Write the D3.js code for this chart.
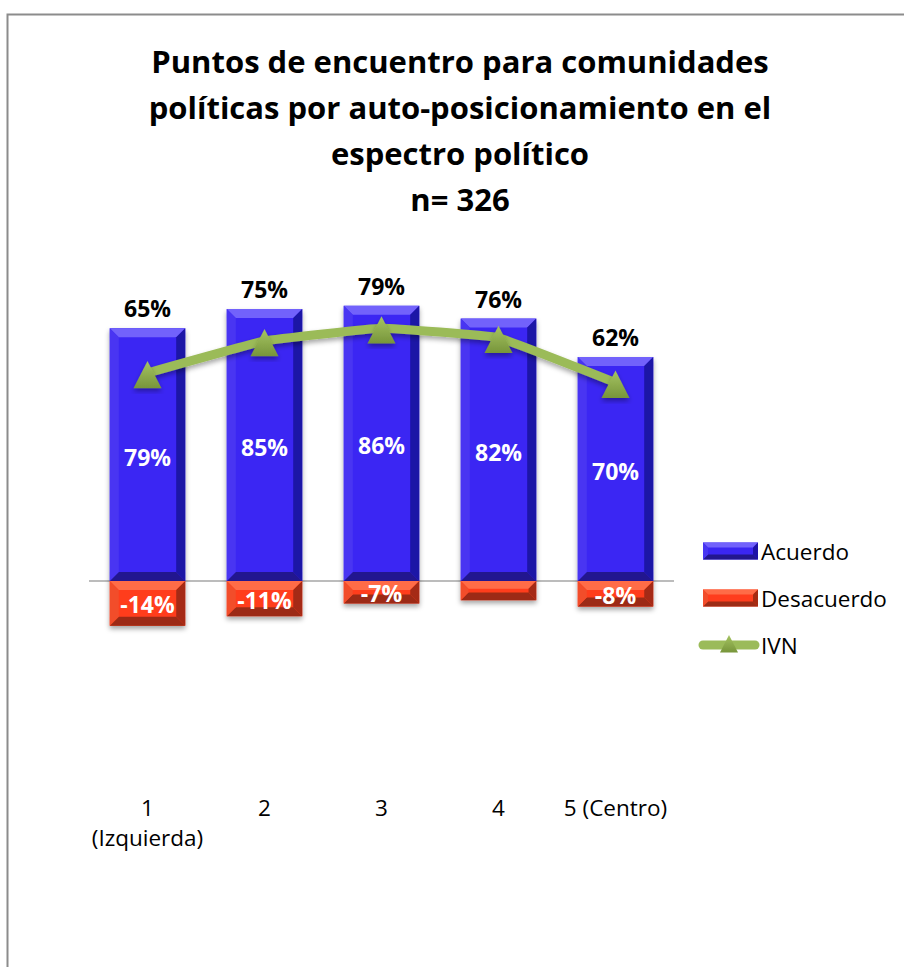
<!DOCTYPE html>
<html>
<head>
<meta charset="utf-8">
<script src="https://cdn.jsdelivr.net/npm/d3@7"></script>
<style>
  body { margin: 0; background: #fff; }
  text { font-family: "Open Sans", "Noto Sans", sans-serif; }
</style>
</head>
<body>
<div class="chart"></div>
<script>
//! DATA
const CATEGORIES = ['1 (Izquierda)', '2', '3', '4', '5 (Centro)'];
const ACUERDO = [79, 85, 86, 82, 70];
const DESACUERDO = [-14, -11, -7, -6, -8];
const DESACUERDO_LABELS = ['-14%', '-11%', '-7%', '', '-8%'];
const IVN = [65, 75, 79, 76, 62];
const TITLE = ['Puntos de encuentro para comunidades', 'políticas por auto-posicionamiento en el', 'espectro político', 'n= 326'];
const SERIES = ['Acuerdo', 'Desacuerdo', 'IVN'];

//! CONSTS
const WIDTH = 904, HEIGHT = 967;

const svg = d3.select('.chart').append('svg')
  .attr('width', WIDTH)
  .attr('height', HEIGHT);

const defs = svg.append('defs');
defs.append('filter').attr('id', 'shadow')
  .attr('x', '-20%').attr('y', '-20%').attr('width', '140%').attr('height', '140%')
  .append('feDropShadow')
  .attr('dx', 0).attr('dy', 3).attr('stdDeviation', 2.5)
  .attr('flood-color', '#000').attr('flood-opacity', 0.35);

const tri = defs.append('linearGradient').attr('id', 'tri')
  .attr('x1', 0).attr('y1', 0).attr('x2', 0).attr('y2', 1);
tri.append('stop').attr('offset', '0%').attr('stop-color', '#a6c463');
tri.append('stop').attr('offset', '100%').attr('stop-color', '#77953a');

// frame
svg.append('rect')
  .attr('x', 7.5).attr('y', 14.5)
  .attr('width', WIDTH + 20).attr('height', HEIGHT + 20)
  .attr('fill', 'none').attr('stroke', '#8c8c8c').attr('stroke-width', 2);

// title
svg.append('g').selectAll('text')
  .data(TITLE)
  .enter().append('text')
  .attr('x', 460)
  .attr('y', (d, i) => 73 + i * 46)
  .attr('text-anchor', 'middle')
  .attr('font-size', 31)
  .attr('font-weight', 700)
  .text(d => d);

//! SCALES
const x = d3.scaleBand()
  .domain(CATEGORIES)
  .range([89, 674])
  .paddingInner(0.355)
  .paddingOuter(0.1775);

const y = d3.scaleLinear()
  .domain([0, 100])
  .range([581, 261]);

const COLORS = {
  blue: { face: '#3b26f3', top: '#7262fb', left: '#4836f2', right: '#1e12a6', bottom: '#23168f' },
  red: { face: '#ff3d1d', top: '#ff6c47', left: '#f24d2b', right: '#a52b12', bottom: '#9c2c16' }
};

// beveled bar, Excel style
function bevelBar(g, x0, y0, w, h, c, b) {
  b = Math.min(b, h / 2.5);
  g.append('rect').attr('x', x0).attr('y', y0).attr('width', w).attr('height', h).attr('fill', c.face);
  const poly = (pts, fill) => g.append('polygon').attr('points', pts.map(p => p.join(',')).join(' ')).attr('fill', fill);
  poly([[x0, y0], [x0 + w, y0], [x0 + w - b, y0 + b], [x0 + b, y0 + b]], c.top);
  poly([[x0, y0 + h], [x0 + w, y0 + h], [x0 + w - b, y0 + h - b], [x0 + b, y0 + h - b]], c.bottom);
  poly([[x0, y0], [x0 + b, y0 + b], [x0 + b, y0 + h - b], [x0, y0 + h]], c.left);
  poly([[x0 + w, y0], [x0 + w - b, y0 + b], [x0 + w - b, y0 + h - b], [x0 + w, y0 + h]], c.right);
}

// zero line
svg.append('line')
  .attr('x1', 89).attr('x2', 674)
  .attr('y1', y(0)).attr('y2', y(0))
  .attr('stroke', '#a6a6a6').attr('stroke-width', 1.5);

// bars
const bars = svg.append('g').attr('class', 'bars');
CATEGORIES.forEach((c, i) => {
  const g = bars.append('g').attr('filter', 'url(#shadow)');
  bevelBar(g, x(c), y(ACUERDO[i]), x.bandwidth(), y(0) - y(ACUERDO[i]), COLORS.blue, 9);
  bevelBar(g, x(c), y(0), x.bandwidth(), y(DESACUERDO[i]) - y(0), COLORS.red, 9);
});

// bar labels
const labels = svg.append('g').attr('font-size', 23).attr('font-weight', 700).attr('text-anchor', 'middle');
CATEGORIES.forEach((c, i) => {
  const cx = x(c) + x.bandwidth() / 2;
  labels.append('text')
    .attr('x', cx).attr('y', (y(0) + y(ACUERDO[i])) / 2 + 2)
    .attr('dominant-baseline', 'central')
    .attr('fill', '#fff')
    .text(ACUERDO[i] + '%');
  labels.append('text')
    .attr('x', cx).attr('y', (y(0) + y(DESACUERDO[i])) / 2 + 1)
    .attr('dominant-baseline', 'central')
    .attr('fill', '#fff')
    .text(DESACUERDO_LABELS[i]);
  labels.append('text')
    .attr('x', cx).attr('y', y(ACUERDO[i]) - 20)
    .attr('dominant-baseline', 'central')
    .attr('fill', '#000')
    .text(IVN[i] + '%');
});

// IVN line
const line = d3.line()
  .x((d, i) => x(CATEGORIES[i]) + x.bandwidth() / 2)
  .y(d => y(d))
  .curve(d3.curveCardinal.tension(0.75));

svg.append('path')
  .datum(IVN)
  .attr('d', line)
  .attr('fill', 'none')
  .attr('stroke', '#9bbb59')
  .attr('stroke-width', 9)
  .attr('filter', 'url(#shadow)');

const triPath = (cx, cy, s) => `M${cx},${cy - s}L${cx + s},${cy + s * 0.95}L${cx - s},${cy + s * 0.95}Z`;

svg.append('g').selectAll('path')
  .data(IVN)
  .enter().append('path')
  .attr('d', (d, i) => triPath(x(CATEGORIES[i]) + x.bandwidth() / 2, y(d) + 2, 14))
  .attr('fill', 'url(#tri)')
  .attr('filter', 'url(#shadow)');

// x labels, wrapped to band width
const xl = svg.append('g').attr('font-size', 22.5).attr('text-anchor', 'middle');
CATEGORIES.forEach(c => {
  const t = xl.append('text').attr('x', x(c) + x.bandwidth() / 2).attr('y', 816);
  t.text(c);
  if (t.node().getComputedTextLength() > x.step()) {
    const words = c.split(' ');
    t.text(null);
    words.forEach((w, j) => t.append('tspan').attr('x', x(c) + x.bandwidth() / 2).attr('dy', j ? 30 : 0).text(w));
  }
});

// legend
const legend = svg.append('g').attr('font-size', 22.5);
SERIES.forEach((s, i) => {
  const ly = 551 + i * 47;
  if (i < 2) {
    bevelBar(legend, 703, ly - 8.5, 55, 17, i ? COLORS.red : COLORS.blue, 5);
  } else {
    legend.append('line')
      .attr('x1', 703).attr('x2', 755).attr('y1', ly).attr('y2', ly)
      .attr('stroke', '#9bbb59').attr('stroke-width', 9).attr('stroke-linecap', 'round');
    legend.append('path').attr('d', triPath(729, ly - 1, 9)).attr('fill', 'url(#tri)');
  }
  legend.append('text')
    .attr('x', 761).attr('y', ly)
    .attr('dominant-baseline', 'central')
    .text(s);
});
</script>
</body>
</html>
